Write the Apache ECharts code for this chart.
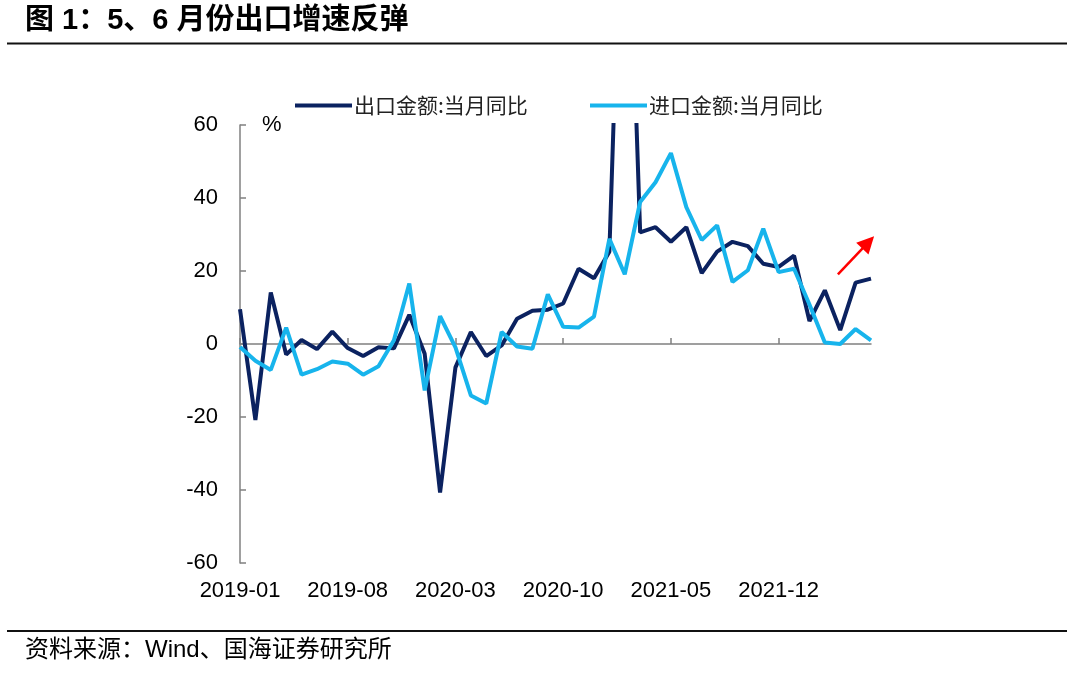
<!DOCTYPE html>
<html>
<head>
<meta charset="utf-8">
<style>
html,body{margin:0;padding:0;background:#fff;}
#main{width:1080px;height:682px;}
</style>
<script src="https://cdn.jsdelivr.net/npm/echarts@6/dist/echarts.min.js"></script>
</head>
<body>
<div id="main"></div>
<script>
var categories = [
  '2019-01','2019-02','2019-03','2019-04','2019-05','2019-06','2019-07','2019-08','2019-09','2019-10','2019-11','2019-12',
  '2020-01','2020-02','2020-03','2020-04','2020-05','2020-06','2020-07','2020-08','2020-09','2020-10','2020-11','2020-12',
  '2021-01','2021-02','2021-03','2021-04','2021-05','2021-06','2021-07','2021-08','2021-09','2021-10','2021-11','2021-12',
  '2022-01','2022-02','2022-03','2022-04','2022-05','2022-06'
];
var exportYoY = [
  9.5, -20.8, 14.1, -2.9, 1.1, -1.4, 3.4, -1.1, -3.3, -0.9, -1.2, 8.0,
  -2.7, -40.7, -6.4, 3.3, -3.3, -0.4, 6.9, 9.1, 9.4, 11.1, 20.6, 18.0,
  25.3, 155.0, 30.6, 32.0, 28.0, 32.0, 19.4, 25.3, 28.0, 26.8, 22.0, 21.1,
  24.2, 6.3, 14.7, 3.8, 16.8, 17.9
];
var importYoY = [
  -0.8, -4.6, -7.1, 4.5, -8.4, -6.9, -4.8, -5.4, -8.4, -6.1, 1.0, 16.6,
  -12.7, 7.6, -0.9, -14.1, -16.3, 3.3, -0.7, -1.3, 13.6, 4.7, 4.5, 7.5,
  28.8, 19.1, 38.9, 44.3, 52.3, 37.5, 28.5, 32.5, 17.0, 20.2, 31.6, 19.7,
  20.6, 10.8, 0.4, 0.0, 4.1, 1.0
];
var yTicks = { min: -60, max: 60, interval: 20 };
var seriesNames = ['出口金额:当月同比', '进口金额:当月同比'];
var arrowFrom = { idx: 38.85, val: 19.1 };
var arrowTo = { idx: 41.2, val: 29.5 };

var latinCJK = '"Liberation Sans", Arial, "Noto Sans CJK SC", sans-serif';
var chart = echarts.init(document.getElementById('main'));
var legendText = { fontSize: 21, color: '#222', fontFamily: '"Noto Sans CJK SC", sans-serif', padding: [0, 0, 0, -3] };
var option = {
  backgroundColor: '#fff',
  animation: false,
  grid: { left: 240, top: 125, width: 631, height: 438, containLabel: false },
  legend: [
    { left: 290, top: 90, itemWidth: 57, itemHeight: 4, icon: 'rect', itemGap: 32,
      data: [seriesNames[0]], textStyle: legendText },
    { left: 585, top: 90, itemWidth: 57, itemHeight: 4, icon: 'rect', itemGap: 32,
      data: [seriesNames[1]], textStyle: legendText }
  ],
  xAxis: [
    { type: 'category', data: categories, boundaryGap: false, position: 'bottom',
      axisLine: { show: false, onZero: false }, axisTick: { show: false },
      axisLabel: { interval: 6, margin: 17, fontSize: 22, color: '#000', fontFamily: latinCJK },
      splitLine: { show: false } },
    { type: 'category', data: categories, boundaryGap: false, position: 'bottom',
      axisLine: { show: true, onZero: true, lineStyle: { color: '#808080', width: 1.5 } },
      axisTick: { show: true, inside: true, interval: 6, length: 6, lineStyle: { color: '#808080', width: 1.5 } },
      axisLabel: { show: false }, splitLine: { show: false } }
  ],
  yAxis: {
    type: 'value', min: yTicks.min, max: yTicks.max, interval: yTicks.interval,
    axisLine: { show: true, lineStyle: { color: '#808080', width: 1.5 } },
    axisTick: { show: true, inside: true, length: 6, lineStyle: { color: '#808080', width: 1.5 } },
    axisLabel: { margin: 22, fontSize: 22, color: '#000', fontFamily: latinCJK },
    splitLine: { show: false }
  },
  series: [
    { name: seriesNames[0], type: 'line', data: exportYoY, xAxisIndex: 0, symbol: 'none',
      clip: true, lineStyle: { width: 4, color: '#0B2260' }, itemStyle: { color: '#0B2260' }, z: 3 },
    { name: seriesNames[1], type: 'line', data: importYoY, xAxisIndex: 0, symbol: 'none',
      clip: true, lineStyle: { width: 4, color: '#17B4EC' }, itemStyle: { color: '#17B4EC' }, z: 4 }
  ]
};
chart.setOption(option);

function toPx(idx, val) {
  var i0 = Math.floor(idx), f = idx - i0;
  var a = chart.convertToPixel({ xAxisIndex: 0, yAxisIndex: 0 }, [i0, val]);
  var b = chart.convertToPixel({ xAxisIndex: 0, yAxisIndex: 0 }, [i0 + 1, val]);
  return [a[0] + (b[0] - a[0]) * f, a[1]];
}
var p1 = toPx(arrowFrom.idx, arrowFrom.val);
var p2 = toPx(arrowTo.idx, arrowTo.val);
var dx = p2[0] - p1[0], dy = p2[1] - p1[1];
var len = Math.sqrt(dx * dx + dy * dy);
var ux = dx / len, uy = dy / len;
var headLen = 17, headHalf = 8.5;
var bx = p2[0] - ux * headLen, by = p2[1] - uy * headLen;
chart.setOption({
  graphic: [
    { type: 'text', left: 25, top: 6,
      style: { text: '图 1：5、6 月份出口增速反弹', font: 'bold 29px ' + latinCJK, fill: '#000' } },
    { type: 'line', shape: { x1: 7, y1: 43.5, x2: 1067, y2: 43.5 }, style: { stroke: '#111', lineWidth: 2 } },
    { type: 'line', shape: { x1: 7, y1: 631, x2: 1067, y2: 631 }, style: { stroke: '#111', lineWidth: 2 } },
    { type: 'text', left: 25, top: 638,
      style: { text: '资料来源：Wind、国海证券研究所', font: '24px ' + latinCJK, fill: '#000' } },
    { type: 'text', left: 262, top: 114,
      style: { text: '%', font: '22px ' + latinCJK, fill: '#000' } },
    { type: 'line', shape: { x1: p1[0], y1: p1[1], x2: bx + ux, y2: by + uy },
      style: { stroke: '#FF0000', lineWidth: 2.5 }, z: 10 },
    { type: 'polygon', shape: { points: [
        [p2[0], p2[1]],
        [bx - uy * headHalf, by + ux * headHalf],
        [bx + uy * headHalf, by - ux * headHalf]
      ] }, style: { fill: '#FF0000' }, z: 10 }
  ]
});
</script>
</body>
</html>
